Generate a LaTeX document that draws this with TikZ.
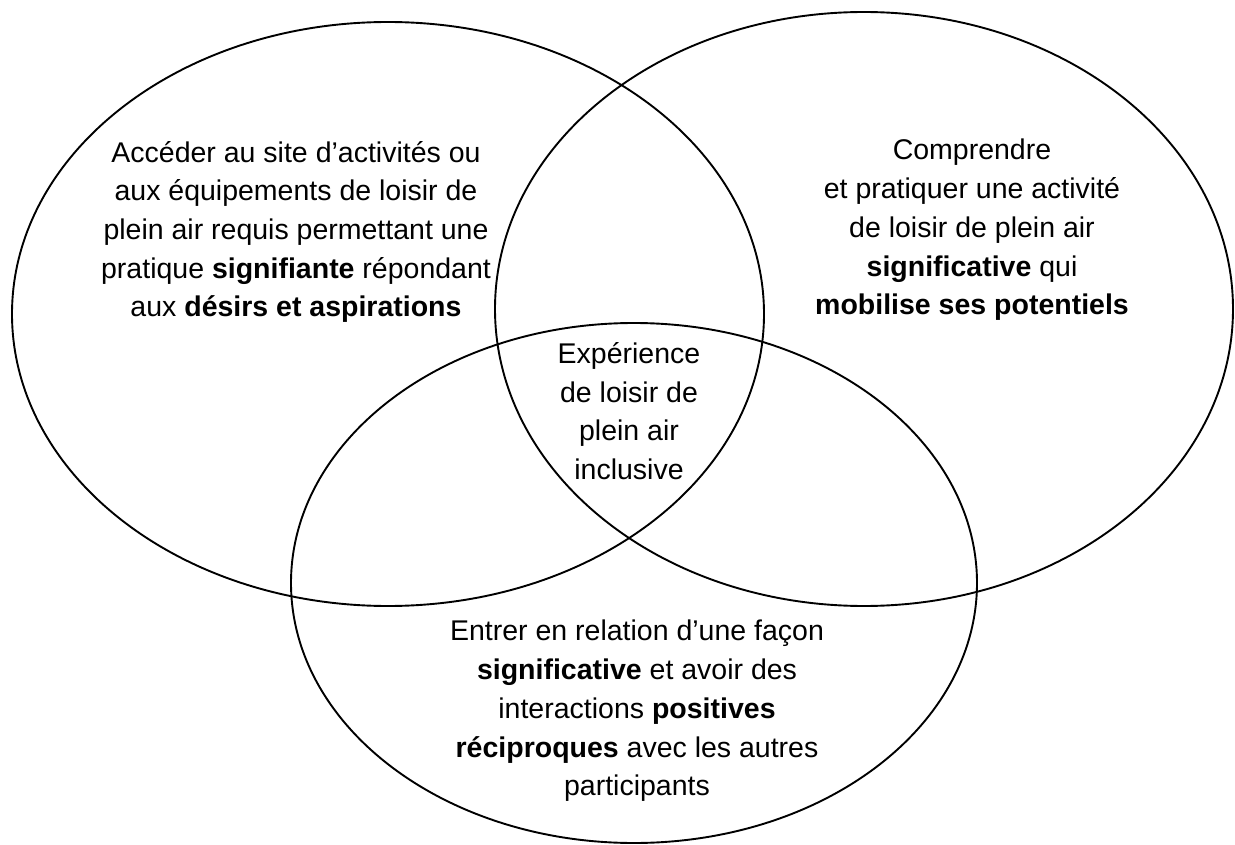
\documentclass[tikz,border=0pt]{standalone}
\usepackage{fontspec}
\setmainfont{Liberation Sans}
\usepackage{tikz}
\usetikzlibrary{positioning}

\begin{document}
\begin{tikzpicture}[x=1pt,y=-1pt,line width=1.9pt,
    venntext/.style={align=center,inner sep=0pt,font=\fontsize{28.5}{38.7}\selectfont}]

    \useasboundingbox (0,0) rectangle (1235,845);

    \draw (388,314) ellipse [x radius=376pt, y radius=292pt];
    \draw (864,309) ellipse [x radius=369pt, y radius=297pt];
    \draw (634,583) ellipse [x radius=343pt, y radius=260pt];

    \node[venntext] (acces) at (296,232)
    {Accéder au site d’activités ou\\aux équipements de loisir de\\plein air requis permettant une\\pratique \textbf{signifiante} répondant\\aux \textbf{désirs et aspirations}};

    \node[venntext] (pratique) at (972,230)
    {Comprendre\\et pratiquer une activité\\de loisir de plein air\\\textbf{significative} qui\\\textbf{mobilise ses potentiels}};

    \node[venntext] (experience) at (629,411)
    {Expérience\\de loisir de\\plein air\\inclusive};

    \node[venntext] (relation) at (637,711)
    {Entrer en relation d’une façon\\\textbf{significative} et avoir des\\interactions \textbf{positives}\\\textbf{réciproques} avec les autres\\participants};
\end{tikzpicture}
\end{document}
